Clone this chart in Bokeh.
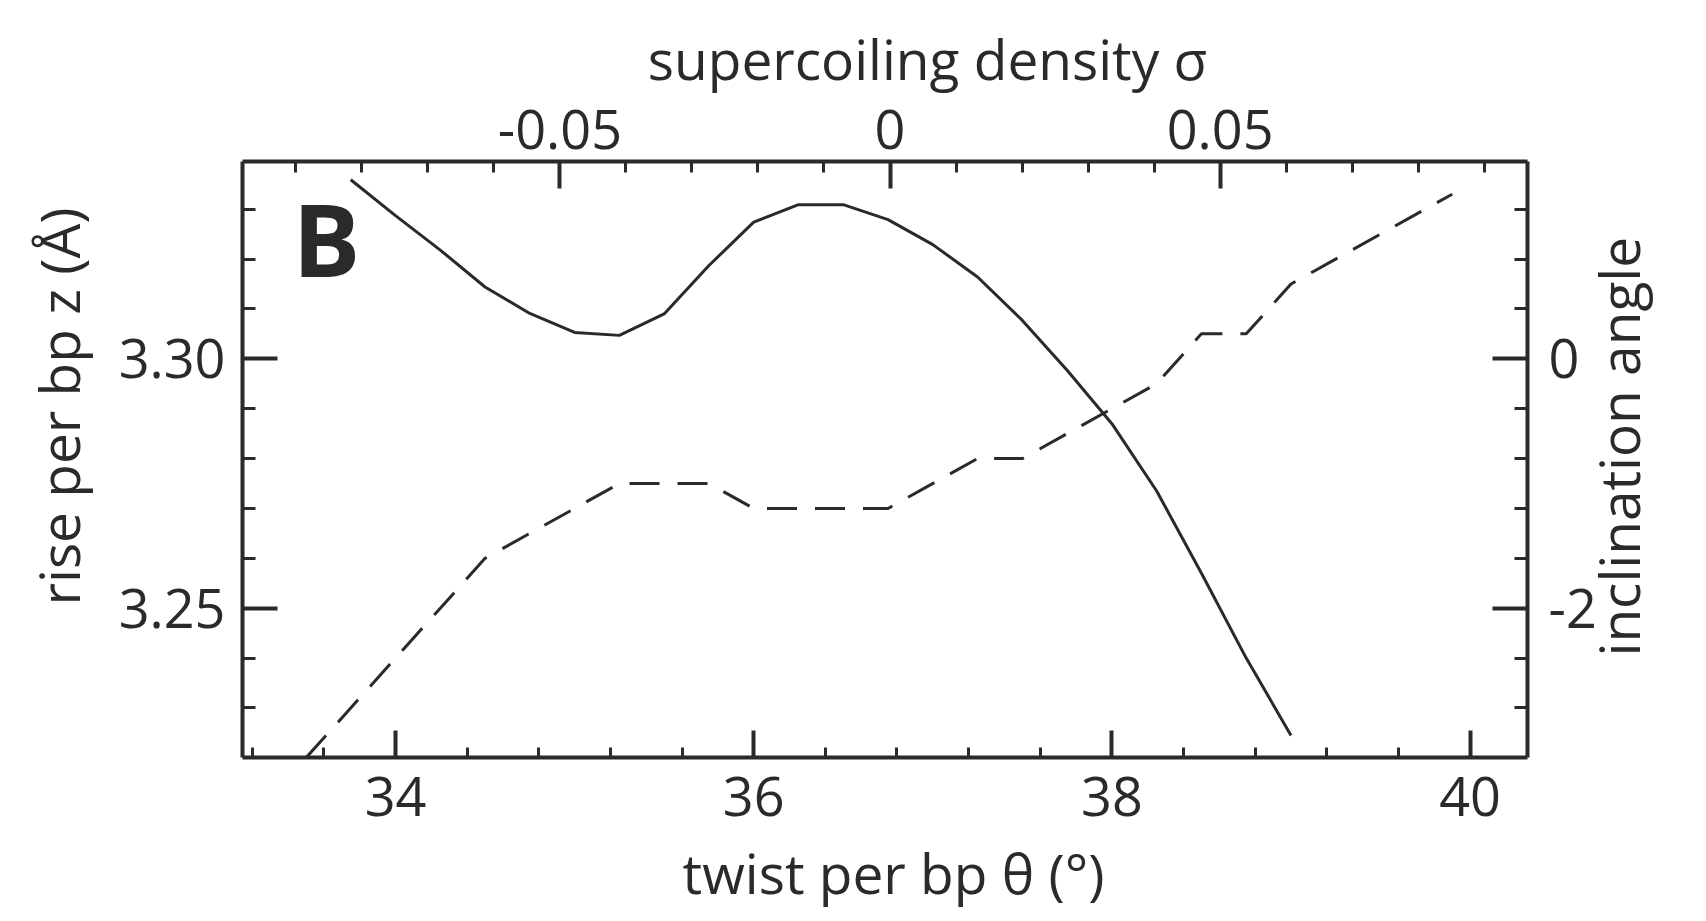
import math
from bokeh.plotting import figure
from bokeh.models import Range1d, LinearAxis, FixedTicker, ColumnDataSource
from bokeh.embed import file_html
from bokeh.resources import INLINE
from bokeh.core.properties import value

# ---------------- data ----------------
# solid curve: rise per bp z (Å) vs twist per bp θ (°)
theta_rise = [33.75, 34.0, 34.25, 34.5, 34.75, 35.0, 35.25, 35.5, 35.75, 36.0, 36.25,
              36.5, 36.75, 37.0, 37.25, 37.5, 37.75, 38.0, 38.25, 38.5, 38.75, 39.0]
rise = [3.3359, 3.3287, 3.3218, 3.3144, 3.3091, 3.3053, 3.3047, 3.3090, 3.3187, 3.3274, 3.3309,
        3.3309, 3.3279, 3.3229, 3.3164, 3.3077, 3.2977, 3.2870, 3.2735, 3.2570, 3.2400, 3.2245]

# dashed curve: inclination angle vs twist per bp θ (°)
theta_incl = [33.5, 34.5, 35.25, 35.75, 36.0, 36.75, 37.25, 37.5, 38.25, 38.5, 38.75, 39.0, 39.9]
incl = [-3.2, -1.6, -1.0, -1.0, -1.2, -1.2, -0.8, -0.8, -0.2, 0.2, 0.2, 0.6, 1.32]

# axis ticks / labels
x_major = [34, 36, 38, 40]
x_minor = [33.2, 33.6, 34.4, 34.8, 35.2, 35.6, 36.4, 36.8, 37.2, 37.6, 38.4, 38.8, 39.2, 39.6]
sigma_major = [-0.05, 0.0, 0.05]
sigma_major_labels = ["-0.05", "0", "0.05"]
sigma_minor = [-0.09, -0.08, -0.07, -0.06, -0.04, -0.03, -0.02, -0.01,
               0.01, 0.02, 0.03, 0.04, 0.06, 0.07, 0.08, 0.09]
z_major = [3.25, 3.30]
z_major_labels = ["3.25", "3.30"]
z_minor = [3.23, 3.24, 3.26, 3.27, 3.28, 3.29, 3.31, 3.32, 3.33]
incl_major = [-2, 0]
incl_major_labels = ["-2", "0"]
incl_minor = [-2.8, -2.4, -1.6, -1.2, -0.8, -0.4, 0.4, 0.8, 1.2]

x_title = "twist per bp θ (°)"
top_title = "supercoiling density σ"
left_title = "rise per bp z (Å)"
right_title = "inclination angle"
panel_letter = "B"

# ---------------- layout ----------------
W, H = 1698, 913
FL, FR, FT, FB = 242, 1527, 161, 757   # frame edges (figure px)
X0, X1 = 33.1457, 40.3205
Y0, Y1 = 3.22007, 3.33956
S0, S1 = -0.09808, 0.09656
I0, I1 = -3.1972, 1.5822

INK = "#2a2a2a"
FONT = "Open Sans"
FS = "54px"


def px_x(xf):  # figure px -> θ
    return round(X0 + (xf - FL) / (FR - FL) * (X1 - X0), 5)


def px_y(yf):  # figure px -> z
    return round(Y1 - (yf - FT) / (FB - FT) * (Y1 - Y0), 6)


p = figure(width=W, height=H, output_backend="svg", toolbar_location=None,
           x_range=Range1d(X0, X1), y_range=Range1d(Y0, Y1),
           x_axis_location=None, y_axis_location=None,
           min_border_left=FL, min_border_right=W - FR,
           min_border_top=FT, min_border_bottom=H - FB,
           background_fill_color="white", border_fill_color="white")
p.outline_line_color = None
p.grid.visible = False
p.extra_x_ranges = {"sigma": Range1d(S0, S1)}
p.extra_y_ranges = {"incl": Range1d(I0, I1)}


def style(ax, ticks, minor, labels, major_in, minor_in, standoff):
    ax.ticker = FixedTicker(ticks=ticks, minor_ticks=minor)
    if labels is not None:
        ax.major_label_overrides = {t: l for t, l in zip(ticks, labels)}
    ax.axis_line_color = INK
    ax.axis_line_width = 4
    ax.major_tick_line_color = INK
    ax.major_tick_line_width = 4
    ax.minor_tick_line_color = INK
    ax.minor_tick_line_width = 3
    ax.major_tick_in = major_in
    ax.major_tick_out = 0
    ax.minor_tick_in = minor_in
    ax.minor_tick_out = 0
    ax.major_label_text_font = FONT
    ax.major_label_text_font_size = FS
    ax.major_label_text_color = INK
    ax.major_label_standoff = standoff


def text_axis(side, pos, text, standoff, size="55px", orientation=None):
    # a line-less, tick-less axis whose single label carries a title text
    ax = LinearAxis()
    ax.ticker = FixedTicker(ticks=[pos], minor_ticks=[])
    ax.major_label_overrides = {pos: text}
    ax.axis_line_color = None
    ax.major_tick_line_color = None
    ax.minor_tick_line_color = None
    ax.major_tick_in = 0
    ax.major_tick_out = 0
    ax.minor_tick_in = 0
    ax.minor_tick_out = 0
    ax.major_label_text_font = FONT
    ax.major_label_text_font_size = size
    ax.major_label_text_color = INK
    ax.major_label_standoff = standoff
    if orientation is not None:
        ax.major_label_orientation = orientation
    p.add_layout(ax, side)


ax_b = LinearAxis()
style(ax_b, x_major, x_minor, None, 27, 10, 19)
p.add_layout(ax_b, "below")

ax_t = LinearAxis(x_range_name="sigma")
style(ax_t, sigma_major, sigma_minor, sigma_major_labels, 27, 11, 13)
p.add_layout(ax_t, "above")

ax_l = LinearAxis()
style(ax_l, z_major, z_minor, z_major_labels, 35, 13, 17)
p.add_layout(ax_l, "left")

ax_r = LinearAxis(y_range_name="incl")
style(ax_r, incl_major, incl_minor, incl_major_labels, 35, 13, 21)
p.add_layout(ax_r, "right")

# axis titles, stacked outside the numbered axes
text_axis("below", px_x(893), x_title, 16)
text_axis("above", px_x(927), top_title, 11)
text_axis("left", px_y(406), left_title, 19, orientation="vertical")
text_axis("right", px_y(656), right_title, 19, orientation=math.pi / 2)

p.line(theta_rise, rise, line_color=INK, line_width=3)
p.line(theta_incl, incl, line_color=INK, line_width=3, line_dash="30 18",
       y_range_name="incl")

# panel letter
letter_src = ColumnDataSource(dict(x=[px_x(292)], y=[px_y(237)], t=[panel_letter]))
r_letter = p.text(x="x", y="y", text="t", source=letter_src, text_font=value(FONT),
                  text_font_size="101px", text_font_style="bold", text_color=INK,
                  text_align="left", text_baseline="alphabetic")
r_letter.level = "overlay"

open("out.html", "w").write(file_html(p, INLINE))
